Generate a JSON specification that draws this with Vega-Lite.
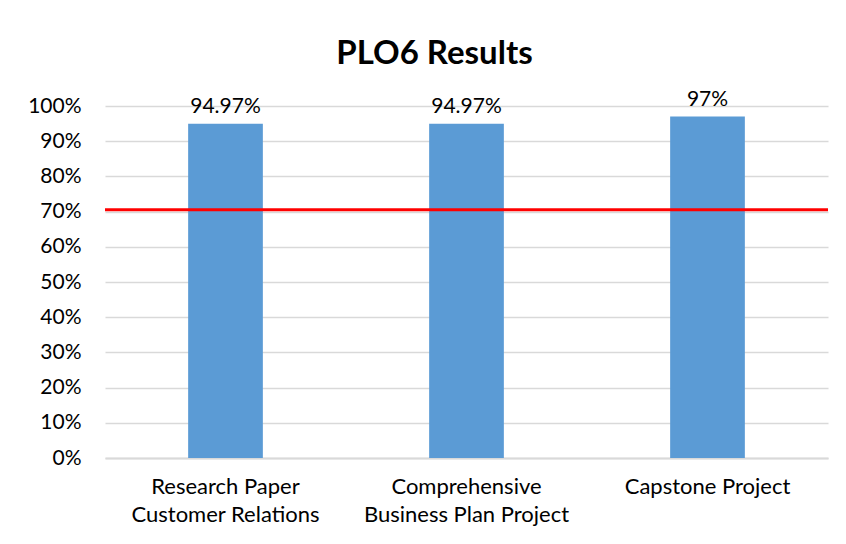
{
  "$schema": "https://vega.github.io/schema/vega-lite/v6.json",
  "width": 723,
  "height": 352,
  "autosize": {"type": "none"},
  "padding": {"left": 105, "top": 106, "right": 18, "bottom": 86},
  "background": "white",
  "title": {
    "text": "PLO6 Results",
    "font": "Lato",
    "fontSize": 33,
    "fontWeight": "bold",
    "color": "#000000",
    "anchor": "middle",
    "dx": -32,
    "offset": 18
  },
  "config": {
    "view": {"stroke": null},
    "font": "Lato"
  },
  "data": {
    "values": [
      {"category": "Research Paper Customer Relations", "value": 0.9497, "label": "94.97%", "order": 1},
      {"category": "Comprehensive Business Plan Project", "value": 0.9497, "label": "94.97%", "order": 2},
      {"category": "Capstone Project", "value": 0.97, "label": "97%", "order": 3}
    ]
  },
  "encoding": {
    "y": {
      "field": "value",
      "type": "quantitative",
      "scale": {"domain": [0, 1], "nice": false},
      "axis": {
        "title": null,
        "format": ".0%",
        "values": [0, 0.1, 0.2, 0.3, 0.4, 0.5, 0.6, 0.7, 0.8, 0.9, 1],
        "labelOverlap": false,
        "labelFont": "Lato",
        "labelFontSize": 21,
        "labelColor": "#000000",
        "labelPadding": 24,
        "ticks": false,
        "domain": false,
        "gridColor": "#D9D9D9",
        "gridWidth": 1.5
      }
    }
  },
  "layer": [
    {
      "mark": {"type": "bar", "color": "#5B9BD5"},
      "encoding": {
        "x": {
          "field": "category",
          "type": "nominal",
          "sort": {"field": "order"},
          "scale": {"paddingInner": 0.69, "paddingOuter": 0.345},
          "axis": {
            "title": null,
            "labelAngle": 0,
            "labelFont": "Lato",
            "labelFontSize": 22,
            "labelColor": "#000000",
            "labelPadding": 18,
            "labelLineHeight": 28,
            "labelOverlap": false,
            "labelLimit": 400,
            "labelExpr": "datum.value == 'Research Paper Customer Relations' ? ['Research Paper', 'Customer Relations'] : datum.value == 'Comprehensive Business Plan Project' ? ['Comprehensive', 'Business Plan Project'] : datum.value",
            "ticks": false,
            "domainColor": "#D9D9D9",
            "domainWidth": 2
          }
        }
      }
    },
    {
      "mark": {"type": "text", "baseline": "bottom", "dy": -7, "font": "Lato", "fontSize": 21, "color": "#000000"},
      "encoding": {
        "x": {"field": "category", "type": "nominal", "sort": {"field": "order"}},
        "text": {"field": "label"}
      }
    },
    {
      "data": {"values": [{"value": 0.705}]},
      "mark": {"type": "rule", "color": "#FF0000", "strokeWidth": 3},
      "encoding": {}
    }
  ]
}
